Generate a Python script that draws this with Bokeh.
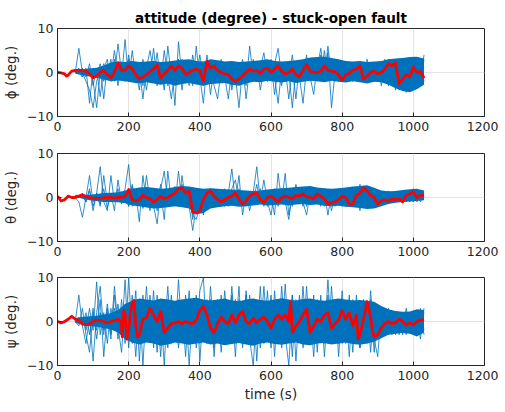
from bokeh.plotting import figure
from bokeh.layouts import column
from bokeh.models import Range1d, FixedTicker
from bokeh.embed import file_html
from bokeh.resources import INLINE

# ---------------- data ----------------
title_text = "attitude (degree) - stuck-open fault"
x_label = "time (s)"
y_labels = ["ϕ (deg.)", "θ (deg.)", "ψ (deg.)"]
time_ticks = [0, 200, 400, 600, 800, 1000, 1200]
angle_ticks = [-10, 0, 10]

# dense core of the blue runs: sampled every 20 s from t = 50 s
BAND_T0, BAND_DT = 50, 20
# individual blue runs: sampled every 10 s from t = 50 s
RUN_T0, RUN_DT = 50, 10

phi_core_lo = [-0.3, -0.6, -0.9, -1.2, -1.6, -2.0, -1.8, -2.0, -2.3, -2.5,
               -2.2, -2.5, -2.8, -2.5, -3.0, -2.6, -2.4, -2.7, -3.0, -2.6,
               -2.5, -2.4, -2.8, -3.0, -2.5, -2.1, -2.2, -1.9, -2.1, -2.3,
               -2.0, -2.4, -2.1, -1.9, -2.0, -2.2, -1.9, -2.1, -2.3, -2.0,
               -2.2, -2.5, -2.1, -2.2, -2.8, -3.6, -4.2, -4.5, -3.8, -2.8]
phi_core_hi = [0.6, 0.7, 0.9, 1.1, 1.6, 2.3, 2.5, 2.4, 2.6, 2.4,
               2.5, 2.6, 2.4, 2.5, 2.7, 2.9, 3.0, 2.6, 2.5, 3.0,
               2.8, 2.5, 2.6, 2.4, 2.5, 2.6, 2.8, 3.0, 2.6, 2.5,
               2.6, 2.8, 3.0, 3.4, 3.5, 3.6, 3.3, 3.0, 2.6, 2.5,
               2.6, 2.4, 2.5, 2.6, 3.0, 3.2, 3.3, 3.5, 3.6, 3.2]

theta_core_lo = [0.2, -0.3, -0.6, -0.8, -1.0, -1.0, -1.1, -1.3, -1.8, -2.0,
                 -2.3, -2.5, -2.4, -2.2, -2.0, -2.2, -2.5, -3.8, -3.5, -2.5,
                 -2.2, -2.0, -1.9, -2.1, -2.0, -1.8, -1.6, -1.8, -1.7, -1.6,
                 -1.8, -1.6, -1.5, -1.7, -1.6, -1.9, -2.0, -1.9, -2.1, -2.2,
                 -2.4, -2.6, -2.5, -2.0, -1.5, -1.2, -1.0, -0.9, -0.8, -0.6]
theta_core_hi = [0.6, 0.5, 0.6, 0.8, 1.0, 1.1, 1.2, 1.6, 2.0, 2.3,
                 2.4, 2.2, 2.0, 2.1, 2.4, 2.6, 2.5, 2.2, 2.0, 2.1,
                 2.0, 1.9, 1.8, 1.7, 1.6, 1.5, 1.6, 1.8, 2.0, 2.1,
                 2.2, 2.4, 2.5, 2.6, 2.3, 2.1, 2.0, 2.1, 2.3, 2.5,
                 2.6, 2.8, 2.2, 1.6, 1.4, 1.5, 1.7, 1.9, 2.0, 1.6]

psi_core_lo = [-0.3, -0.8, -1.0, -1.2, -1.5, -1.8, -2.5, -4.0, -4.8, -5.2,
               -4.8, -5.0, -5.5, -5.2, -4.8, -5.0, -5.3, -5.0, -4.8, -5.2,
               -5.0, -5.4, -5.1, -4.9, -5.2, -5.5, -5.0, -4.8, -5.1, -5.3,
               -5.0, -4.8, -5.2, -5.4, -5.0, -4.9, -5.2, -5.0, -4.8, -5.1,
               -5.3, -5.0, -4.6, -3.8, -3.0, -2.8, -2.6, -2.8, -3.4, -2.5]
psi_core_hi = [0.8, 1.0, 1.2, 1.3, 1.6, 1.9, 2.6, 4.0, 4.8, 5.2,
               5.0, 4.8, 5.2, 5.0, 4.7, 5.0, 5.2, 5.4, 5.0, 4.8,
               5.0, 5.2, 4.8, 4.6, 5.0, 5.2, 4.9, 4.7, 5.0, 5.3,
               5.0, 4.8, 5.1, 5.2, 4.9, 4.7, 5.0, 5.2, 5.0, 4.8,
               4.9, 4.7, 4.5, 3.5, 2.8, 2.4, 2.2, 2.3, 2.8, 2.6]

phi_run_a = [0, 5.5, 0, -2, -4, -8, -2, 1, -6, 2,
             0, -1, 6.5, 0, -2, 1, -1, 0, 1, -6,
             1, 5, 0, -3, 1, 0, -1, 2, -7.5, 7,
             -1, 1, -2, 0, 1, -1, -7, 2, -5, 1,
             -1, 0, 1, -1, 0, -1, -8, 1, -3, 6,
             -1, 0, 1, -1, 0, 1, -1, -7, 1, -2,
             0, -8, 1, -1, -7, 1, 0, -1, 1, 5.5,
             -1, 4.5, -8, 0, 1, -1, 0, 1, -1, 0,
             1, -1, 0, 1, -1, 0, 1, -1, 2, -2,
             1, -3, 2, -3, 1, -2, 3, -2, 4]
phi_run_b = [0, 1, -1, 0, 1, -2, -8, 0, 2, -1,
             3, -2, 2, -1, 7.5, -2, 5, -1, 2, -3,
             2, -1, 5.5, -2, 1, -4, 6, -1, 2, -2,
             3, -1, 1, -3, 6, -2, 2, -1, 1, -3,
             -6, 1, -1, -6, 1, -1, 2, -1, 1, -2,
             3, -1, 1, 4.5, -1, 1, 2, 5.5, -1, 1,
             -6, 1, -1, 2, -1, 1, -1, -5, 2, -1,
             5, -1, 1, -2, 1, -1, 2, -2, 1, -1,
             2, -2, 3, -1, 1, -2, 2, -1, 3, -3,
             2, -4, 3, -4.5, 2, -3, 2, -3, 3]
phi_run_c = [0, 0, 1, -1, 2, -3, 1, -5.5, 1, 3,
             -2, 3, -3, 2, -1, 3, -2, 1, -4, 3,
             -2, 2, -1, 4.5, -2, 2, -3, 1, -1, 3,
             -4, 2, -2, 4, -1, 1, -3, 4, -2, 2,
             -1, 3, -2, 1, -3, 2, -1, 3, -2, 1,
             -1, 2, -4, 1, -2, 3, -1, 1, -3, 2,
             -1, 4, -2, 1, -1, 4, -2, 2, -1, 4,
             -2, 3, -1, 2, -2, 1, -1, 2, -2, 1,
             -1, 2, -2, 1, -2, 2, -3, 2, -2, 3,
             -3, 2, -4, 3, -3, 2, -3, 3, -2]
phi_run_d = [0, 0, -1, 1, -7, 1, -1, 2, -2, 1,
             -1, 5, -1, 2, -2, 4, -1, 2, -2, 1,
             -4, 2, -1, 1, -2, 5, -1, -6, 1, 3,
             -1, 1, -3, 2, -1, 4, -1, 1, -2, 2,
             -1, 1, -2, 2, -4, 1, -1, 2, -6, 1,
             -1, 2, -1, 1, -2, 2, -5, 1, -1, 2,
             -1, 1, -6, 2, -1, 1, -1, 2, -2, 3,
             -1, 6, -1, 1, -2, 1, -1, 1, -2, 2,
             -1, 1, -1, 2, -2, 1, -2, 3, -3, 2,
             -4, 3, -2, 2, -4, 3, -2, 2, -1]

theta_run_a = [0, -1, -4.5, 0, 5, -1, 1, 7, -1, -3,
               5, -1, 1, -1, 2, 7.5, -2, 1, -5.5, 5,
               -1, 1, -2, -6, 2, 6, -1, 1, -2, 6,
               -1, 1, -2, -7.5, -2, 1, -4, 1, -1, 2,
               -1, 1, -2, 1, 6.5, -1, 5, -4, 1, -1,
               1, 7, -1, 1, -2, 1, -4, 5.5, -1, 5.5,
               -4, 1, -1, 1, -2, 2, -1, 1, -1, 2,
               -2, 1, -3, 1, -1, 2, -2, 1, -1, 2,
               -3, 2, -2, 1, -2, 1, -1, 1, -1, 1,
               -1, 1, -1, 1.5, -1, 2, -1, 1.5, 0]
theta_run_b = [0, 0, 1, -1, 2, -3, 1, -2, 5, -1,
               1, -3, 4, -1, 1, -2, 3, -1, 2, -2,
               5, -1, 1, -3, 1, -5, 6, -1, 2, -2,
               5, -1, 2, -5, 1, -2, 1, -1, 2, -1,
               1, -2, 1, -1, 2, 4, -1, 1, -2, 1,
               -1, 3, -1, 4, -1, -4, 1, -1, 2, -1,
               -5, 1, -1, 2, -1, -4, 1, -1, 2, -1,
               1, -4, 1, -1, 2, -2, 1, -2, 2, -1,
               3, -1, 1, -2, 2, -1, 1, -1.5, 1.5, -1,
               1.5, -1, 1, -1, 1.5, -1, 1, -0.5, 1]
theta_run_c = [0, 0, 0.5, -1, 1.5, -2, 1, -1.5, 2, -2.5,
               1, -1, 2, -1.5, 1, -2, 2.5, -1, 2, -2.5,
               1, -3, 2, -1, 3, -2, 1, -1, 2.5, -2,
               3, -1, 1, -4, -5, -2, 1, -1, 2, -2,
               1, -1, 2, -2, 1, -1, 2, -2, 1, -3,
               1, -1, 2, -2, 1, -1, 2, -2, 1, -1,
               2, -2, 3, -1, 1, -2, 2, -1, 1, -2,
               2, -1, 1, -2, 1, -1, 2, -1, 1, -2,
               1, -1, 2.5, -1, 1, -2, 1, -1, 1, -1,
               1, -1, 1, -1, 1, -1, 1.5, -1, 0.5]

psi_run_a = [0, 6, -1, -5, 1, -9, 2, 8, -2, 3,
             -4, 6, -2, 2, -5, 10, -3, 7, -9, 4,
             -2, 6, -6, 3, -8, 5, -3, 6, -4, 9.5,
             -3, 4, -10, 3, -4, 7, 10, -5, 3, -6,
             5, -3, 7, -3, 4, -8, 5, -3, 6, -4,
             -10, 3, -4, 8, -3, 6, -8, 4, -3, 8.5,
             -4, 6, -9, 3, -4, 5, -3, 6, -7, 4,
             -3, 9.5, -4, 5, -8, 4, -3, 6, -5, 4,
             -6, 5, -3, 4, -7, 3, -3, 2, -3, 2,
             -2, 2, -3, 2, -2, 1.5, -3, 3, -2]
psi_run_b = [0, -1, 3, -3, -7, 2, -2, 5, -8, 2,
             -3, 8, -1, -7, 4, -2, 6, -4, 5, -10,
             4, -3, 7, -5, 3, -10, 5, -3, 4, -6,
             3, -8, 4, -2, 6, -9, 3, -4, 8, -3,
             4, -7, 3, -4, 6, -3, 8, -6, 3, -4,
             5, -9, 4, -3, 7, -5, 3, -4, 8, -3,
             -10, 4, -3, 6, -4, 8, -5, 3, -4, 6,
             -8, 3, -4, 5, -3, 7, -5, 3, -7, 6,
             -3, 4, -5, 7, -4, -8, 3, -2, 2, -3,
             2, -2, 2, -3, 2, -2, 2, -4, 3]
psi_run_c = [0, 1, -1, 2, -3, 3, -4, 2, -3, 4,
             -2, 3, -4, 5, -3, 4, -5, 3, -4, 6,
             -3, 4, -5, 6, -4, 3, -6, 4, -3, 5,
             -4, 6, -3, 4, -6, 3, -4, 5, -5, 3,
             -4, 6, -3, 4, -5, 5, -4, 3, -5, 6,
             -3, 4, -6, 3, -4, 5, -3, 4, -6, 3,
             -4, 6, -3, 4, -6, 3, -4, 5, -3, 4,
             -5, 6, -3, 4, -5, 3, -4, 5, -3, 4,
             -6, 3, -4, 5, -3, 2, -3, 2, -2, 2,
             -3, 2, -2, 3, -2, 2, -3, 2, -3]
psi_run_d = [0, 0, 1, -2, 3, -2, 9, -3, 2, -5,
             3, -2, 4, -3, 9.5, -6, 3, -8, 4, -3,
             8, -4, 3, -7, 4, -3, 8, -5, 3, -4,
             5, -3, 7, -4, 3, -5, 4, -3, 5, -8,
             3, -4, 5, -3, 8, -4, 3, -5, 7, -3,
             4, -4, 8, -5, 3, -6, 7, -3, 4, -5,
             3, -8, 5, -3, 8, -4, 3, -8, 5, -3,
             4, -5, 8, -3, 4, -5, 3, -8, 5, -3,
             4, -5, 3, -7, 4, -3, 2, -2, 3, -2,
             2, -3, 2, -2, 1.5, -2, 2, -2, 2]

# nominal (red) run as (time, angle) pairs
phi_nominal = [(0, 0), (10, -0.1), (20, -0.3), (25, -0.8), (30, -0.6), (40, 0.3), (50, 0.5),
               (60, 0.5), (70, 0.5), (80, 0.3), (90, -0.3), (100, -1.2), (110, -0.8), (120, 0),
               (130, 0.5), (140, -0.5), (150, -1.2), (160, 0), (170, 2.2), (180, 0.5), (190, 0.5),
               (200, 1.5), (210, 0.8), (220, -0.5), (230, -1.5), (240, -1.0), (250, -0.5), (260, 0.3),
               (270, 0.8), (280, 1.7), (290, -1.3), (300, -0.3), (310, 0.5), (320, 1.5), (330, 0.5),
               (340, 1.5), (350, 1.0), (360, -0.5), (370, 0), (380, 0.5), (390, 0.8), (400, 0.3),
               (410, -2.0), (420, 2.5), (430, 1.0), (440, 1.5), (450, 0.5), (460, 0), (470, -0.3),
               (480, -0.5), (490, -1.5), (500, -2.0), (510, -1.5), (520, -0.8), (530, 0), (540, 0.8),
               (550, 0.3), (560, 0.5), (570, -0.3), (580, 0.8), (590, 1.0), (600, 0), (610, 0.8),
               (620, 1.5), (630, 0.3), (640, -0.3), (650, 0), (660, 0.8), (670, -0.5), (680, -1.0),
               (690, 0.5), (700, 1.8), (710, 0.3), (720, 0), (730, 0), (740, 0.3), (750, 1.5),
               (760, 0.5), (770, 0.3), (780, 0.2), (790, -0.5), (800, -1.8), (810, -0.5), (820, -0.2),
               (830, 0.5), (840, 0.8), (850, 1.5), (860, -1.5), (870, -0.8), (880, 0), (890, 0.3),
               (900, -0.3), (910, 0), (920, 0.8), (930, 2.0), (940, 1.5), (950, 2.2), (960, -2.5),
               (970, -1.5), (980, -0.5), (990, -1.0), (1000, 1.2), (1010, 0), (1020, 0.2), (1030, -1.3)]
theta_nominal = [(0, 0.3), (10, -0.8), (20, -0.5), (30, 0.3), (40, 0), (50, 0), (60, 0.3),
                 (70, 0.6), (80, 0.2), (90, 0), (100, -0.2), (120, -0.2), (140, 0), (160, -0.1),
                 (180, 0), (190, 0.3), (200, 1.8), (210, -0.5), (220, -0.8), (230, -0.5), (240, 0.5),
                 (250, 0), (260, -0.3), (270, -1.0), (280, -0.5), (290, 0.3), (300, -0.3), (310, 0),
                 (320, 0.5), (330, 1.0), (340, 2.0), (350, 2.2), (360, 1.0), (370, 1.5), (380, -3.3),
                 (390, -3.5), (400, -3.0), (410, -0.5), (420, 1.0), (430, 1.5), (440, 0.3), (450, -0.5),
                 (460, -1.0), (470, -0.5), (480, 0), (490, 0.3), (500, 1.0), (510, -0.3), (520, -1.5),
                 (530, -0.8), (540, 0.3), (550, 0.8), (560, 1.0), (570, -0.5), (580, -1.2), (590, 0),
                 (600, 0.3), (610, -0.3), (620, -1.0), (630, 0), (640, 0.3), (650, 0), (660, -0.3),
                 (670, 0.5), (680, 0.3), (690, 0.8), (700, 0.2), (710, 0), (720, -0.3), (730, 0.8),
                 (740, 0.3), (750, -0.3), (760, -1.5), (770, -1.2), (780, -1.0), (790, -0.5), (800, 0.3),
                 (810, 0), (820, -1.5), (830, -1.5), (840, 0.5), (850, 1.0), (860, 2.2), (870, 1.5),
                 (880, 0.5), (890, 0), (900, -1.5), (910, -0.8), (920, -0.5), (930, -0.8), (940, -0.3),
                 (950, -0.5), (960, -0.3), (970, -1.0), (980, 0.5), (990, 0.8), (1000, 1.3), (1010, 0),
                 (1020, 0.5), (1030, 0.5)]
psi_nominal = [(0, 0), (10, -0.3), (20, 0), (30, 0.5), (40, 1.2), (50, 0.5), (60, 0.3), (70, -0.5),
               (80, -0.8), (90, -0.5), (100, 0), (110, 0.3), (120, 0.2), (130, 0), (140, -0.3), (150, 0),
               (160, 0.2), (170, 0.5), (178, 0), (182, -3.5), (186, 2.5), (190, 1.5), (195, -4),
               (200, -2), (205, 2), (210, 4.0), (215, 4.8), (220, -1), (225, -3.5), (230, -3),
               (240, 0.5), (250, 0.8), (260, 3.0), (270, 1.5), (280, 0), (290, 2.3), (300, -2.5),
               (310, -1.5), (320, -0.5), (330, -0.3), (340, 0), (350, -0.5), (360, 0), (370, -0.3),
               (380, -0.5), (390, 0.3), (400, 2.5), (410, 3.5), (420, 1.5), (430, -1.5), (440, -2.5),
               (450, -0.5), (460, 1.0), (470, 0), (480, -0.5), (490, 1.5), (500, -0.3), (510, 1.5),
               (520, 2.3), (530, 0), (540, -0.5), (550, 0.8), (560, -0.3), (570, 0.5), (580, 1.0),
               (590, 0), (600, -1.5), (610, 0.5), (620, 1.5), (630, 0.5), (640, 1.5), (650, 0),
               (655, 4.5), (660, -2.5), (670, -1.0), (680, 0), (690, 1.5), (700, 2.8), (710, -2.5),
               (720, -1), (730, 0.5), (740, 0), (750, 1.5), (760, 2.0), (770, -1.5), (780, -0.5),
               (790, 0.3), (800, 2.5), (810, 0.5), (820, 2.0), (830, -1.0), (840, 1.5), (845, -4.0),
               (850, -3), (860, 0.5), (870, 4.5), (880, 1.0), (885, -2.0), (890, -3.5), (900, -3.0),
               (910, -1.5), (920, -0.5), (930, 0), (940, -0.5), (950, -0.3), (960, 0.5), (970, 0),
               (980, -0.8), (990, -0.3), (1000, -0.8), (1010, 0), (1020, 0.3), (1030, 0.5)]

# ---------------- styling ----------------
BLUE = "#0072BD"
RED = "#FF0000"
AXC = "#262626"
GRID = "#e3e3e3"
FONT = "DejaVu Sans"


def panel(ylabel, core_lo, core_hi, runs, nominal, top, bottom, title=None, xlabel=None):
    p = figure(frame_width=427, frame_height=88, output_backend="svg", toolbar_location=None,
               x_range=Range1d(0, 1200), y_range=Range1d(-10, 10),
               min_border_left=48, min_border_right=14,
               min_border_top=top, min_border_bottom=bottom)
    n = min(len(core_lo), len(core_hi))
    tb = [BAND_T0 + BAND_DT * i for i in range(n)]
    p.varea(x=tb, y1=core_lo[:n], y2=core_hi[:n], fill_color=BLUE, fill_alpha=1.0)
    for r in runs:
        tr = [RUN_T0 + RUN_DT * i for i in range(len(r))]
        p.line(tr, r, line_color=BLUE, line_width=0.8)
    p.line([a for a, b in nominal], [b for a, b in nominal], line_color=RED, line_width=2.8,
           line_join="round")

    p.xaxis.ticker = FixedTicker(ticks=time_ticks)
    p.yaxis.ticker = FixedTicker(ticks=angle_ticks)
    for ax in (p.xaxis[0], p.yaxis[0]):
        ax.major_tick_in = 4
        ax.major_tick_out = 0
        ax.minor_tick_line_color = None
        ax.axis_line_color = AXC
        ax.major_tick_line_color = AXC
        ax.major_label_text_font = FONT
        ax.major_label_text_font_size = "12.5px"
        ax.major_label_text_color = AXC
        ax.major_label_standoff = 4
        ax.axis_label_text_font = FONT
        ax.axis_label_text_font_size = "13.5px"
        ax.axis_label_text_font_style = "normal"
        ax.axis_label_text_color = AXC
    p.xaxis.major_label_standoff = 5
    p.yaxis.axis_label = ylabel
    p.yaxis.axis_label_standoff = 5
    if xlabel:
        p.xaxis.axis_label = xlabel
        p.xaxis.axis_label_standoff = 3
    p.xgrid.grid_line_color = GRID
    p.ygrid.grid_line_color = GRID
    p.outline_line_color = AXC
    p.outline_line_width = 1
    p.background_fill_color = "white"
    p.border_fill_color = "white"
    if title:
        p.title.text = title
        p.title.align = "center"
        p.title.text_font = FONT
        p.title.text_font_size = "13.5px"
        p.title.text_font_style = "bold"
        p.title.text_color = "black"
        p.title.standoff = 6
    return p


p1 = panel(y_labels[0], phi_core_lo, phi_core_hi, [phi_run_a, phi_run_b, phi_run_c, phi_run_d],
           phi_nominal, top=28, bottom=29, title=title_text)
p2 = panel(y_labels[1], theta_core_lo, theta_core_hi, [theta_run_a, theta_run_b, theta_run_c],
           theta_nominal, top=8, bottom=28)
p3 = panel(y_labels[2], psi_core_lo, psi_core_hi, [psi_run_a, psi_run_b, psi_run_c, psi_run_d],
           psi_nominal, top=8, bottom=39, xlabel=x_label)

layout = column(p1, p2, p3, spacing=0)
open("out.html", "w").write(file_html(layout, INLINE))
